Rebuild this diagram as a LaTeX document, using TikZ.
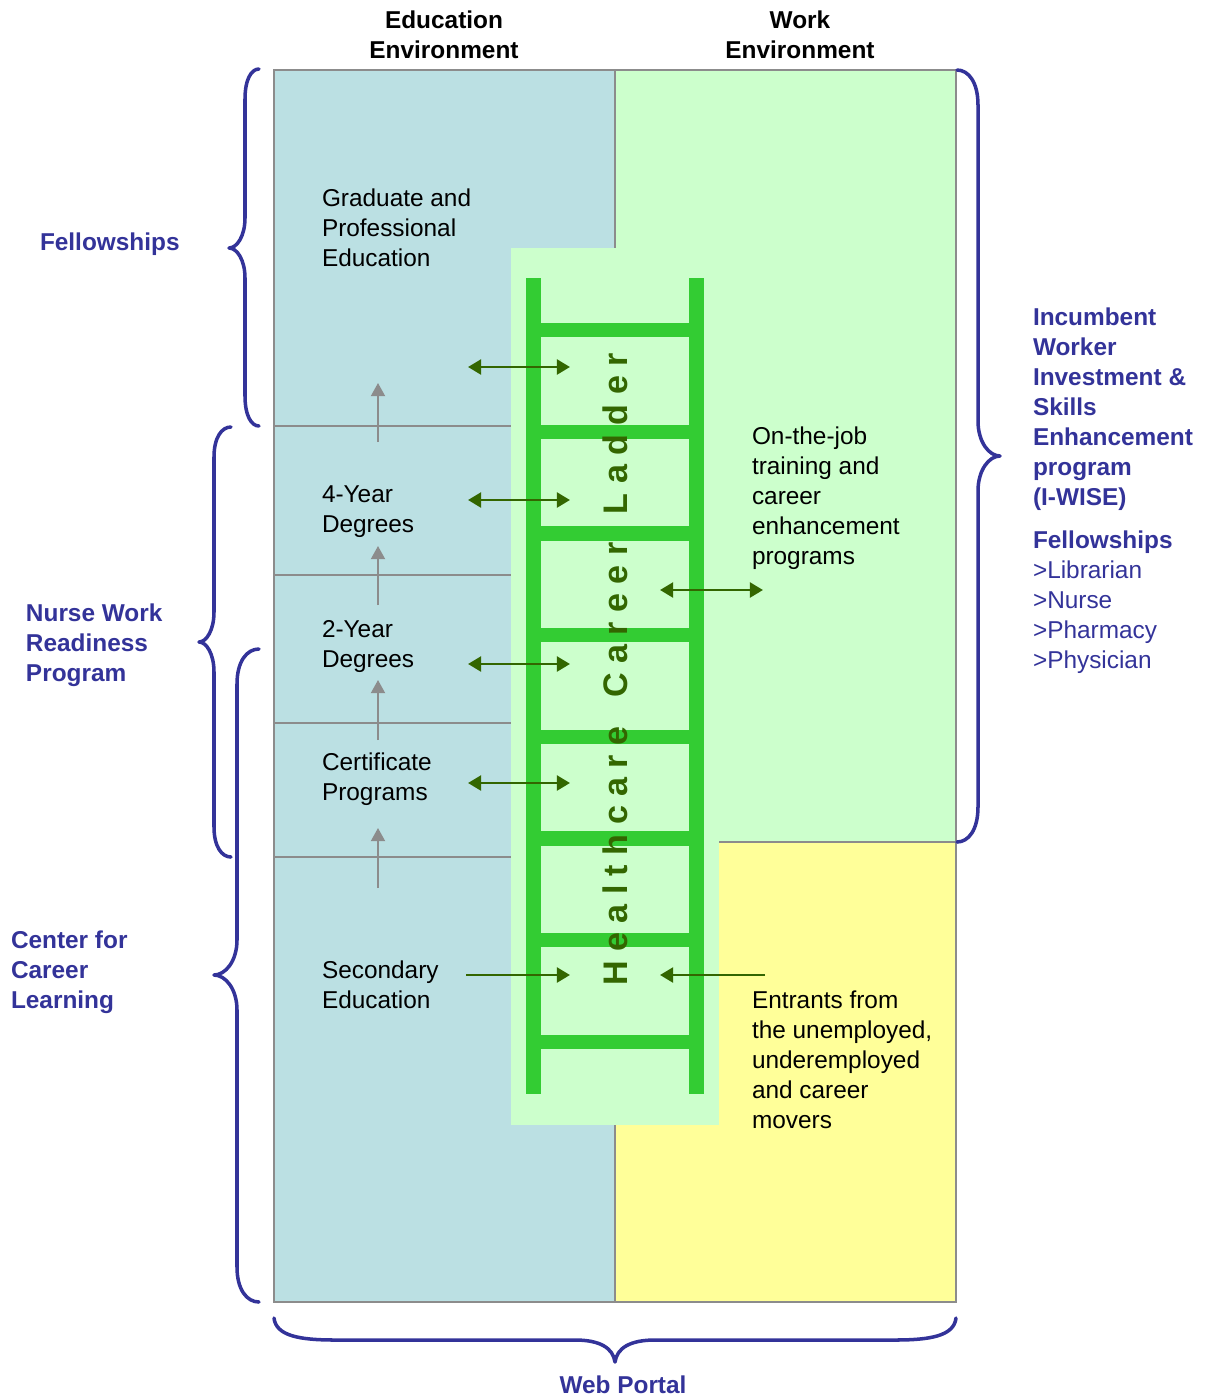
\documentclass[tikz,border=0pt]{standalone}
\usepackage{fontspec}
\setmainfont{Liberation Sans}
\usetikzlibrary{arrows.meta}
\definecolor{edublue}{RGB}{187,224,227}
\definecolor{workgreen}{RGB}{204,255,204}
\definecolor{entyellow}{RGB}{255,255,153}
\definecolor{railgreen}{RGB}{51,204,51}
\definecolor{dgreen}{RGB}{51,102,0}
\definecolor{bblue}{RGB}{51,51,153}
\definecolor{lgrey}{RGB}{140,140,140}
\newcommand{\mybracel}[7]{% xt, y1, y2, xv, xp, ym, r
  \draw[brc] (#1,#2) .. controls ({#4+0.45*(#1-#4)},#2) and (#4,{#2+0.35*#7}) .. (#4,#2+#7) -- (#4,#6-#7)
    .. controls (#4,{#6-0.4*#7}) and ({#5+0.5*(#4-#5)},#6) .. (#5,#6)
    .. controls ({#5+0.5*(#4-#5)},#6) and (#4,{#6+0.4*#7}) .. (#4,#6+#7)
    -- (#4,#3-#7) .. controls (#4,{#3-0.35*#7}) and ({#4+0.45*(#1-#4)},#3) .. (#1,#3);}
\begin{document}
\begin{tikzpicture}[x=0.02cm,y=-0.02cm,
  txt/.style={inner sep=0pt, outer sep=0pt, align=left, anchor=north west,
    font=\fontsize{13.88pt}{17.07pt}\selectfont},
  btxt/.style={txt, text=bblue, font=\fontsize{13.88pt}{17.07pt}\selectfont\bfseries},
  htxt/.style={txt, align=center, anchor=north, font=\fontsize{13.88pt}{17.07pt}\selectfont\bfseries},
  region/.style={draw=lgrey, line width=1.1pt},
  divline/.style={draw=lgrey, line width=1.1pt},
  rail/.style={draw=railgreen, line width=8.5pt},
  brc/.style={draw=bblue, line width=2pt, line join=round, line cap=round},
  garr/.style={draw=dgreen, line width=1.6pt, -{Triangle[length=7.5pt,width=8.5pt]}},
  darr/.style={draw=dgreen, line width=1.6pt, {Triangle[length=7.5pt,width=8.5pt]}-{Triangle[length=7.5pt,width=8.5pt]}},
  uparr/.style={draw=lgrey, line width=1.1pt, -{Triangle[length=7.5pt,width=8pt]}}]
\useasboundingbox (0,0) rectangle (1207,1397);

% regions
\fill[edublue] (274,70) rectangle (615,1302);
\fill[workgreen] (615,70) rectangle (956,842);
\fill[entyellow] (615,842) rectangle (956,1302);
\draw[region] (274,70) rectangle (956,1302);
\draw[divline] (615,70) -- (615,1302);
\draw[divline] (615,842) -- (956,842);
\foreach \yy in {426,575,723,857} \draw[divline] (274,\yy) -- (511,\yy);

% grey level arrows
\coordinate (u1a) at (378,442); \coordinate (u1b) at (378,383);
\coordinate (u2a) at (378,605); \coordinate (u2b) at (378,546);
\coordinate (u3a) at (378,740); \coordinate (u3b) at (378,680);
\coordinate (u4a) at (378,888); \coordinate (u4b) at (378,828);
\draw[uparr] (u1a) -- (u1b);
\draw[uparr] (u2a) -- (u2b);
\draw[uparr] (u3a) -- (u3b);
\draw[uparr] (u4a) -- (u4b);

% ladder panel
\fill[workgreen] (511,248) rectangle (719,1125);
\draw[rail] (533.5,278) -- (533.5,1094);
\draw[rail] (696.5,278) -- (696.5,1094);
\foreach \yy in {330,432,533.5,635,737,838.5,940,1042}
  \draw[rail] (541,\yy) -- (689,\yy);
\node[rotate=90, inner sep=0pt, text=dgreen,
  font=\fontsize{19.4pt}{24pt}\selectfont\bfseries] (ladder) at (615.5,669.5)
  {H~e~a~l~t~h~c~a~r~e~~~C~a~r~e~e~r~~~L~a~d~d~e~r};

% green arrows
\coordinate (g1l) at (468,367); \coordinate (g1r) at (570,367);
\coordinate (g2l) at (468,500); \coordinate (g2r) at (570,500);
\coordinate (g3l) at (468,664); \coordinate (g3r) at (570,664);
\coordinate (g4l) at (468,783); \coordinate (g4r) at (570,783);
\coordinate (g5l) at (466,975); \coordinate (g5r) at (570,975);
\coordinate (g6l) at (660,590); \coordinate (g6r) at (763,590);
\coordinate (g7l) at (660,975); \coordinate (g7r) at (765,975);
\draw[darr] (g1l) -- (g1r);
\draw[darr] (g2l) -- (g2r);
\draw[darr] (g3l) -- (g3r);
\draw[darr] (g4l) -- (g4r);
\draw[garr] (g5l) -- (g5r);
\draw[darr] (g6l) -- (g6r);
\draw[garr] (g7r) -- (g7l);

% texts in regions
\node[txt] (grad) at (322,189) {Graduate and\\Professional\\Education};
\node[txt] (four) at (322,486) {4-Year\\Degrees};
\node[txt] (two) at (322,620) {2-Year\\Degrees};
\node[txt] (cert) at (322,753) {Certificate\\Programs};
\node[txt] (sec) at (322,961) {Secondary\\Education};
\node[txt] (ojt) at (752,427) {On-the-job\\training and\\career\\enhancement\\programs};
\node[txt] (ent) at (752,991) {Entrants from\\the unemployed,\\underemployed\\and career\\movers};

% headers
\node[htxt] (eduh) at (444,11) {Education\\Environment};
\node[htxt] (workh) at (800,11) {Work\\Environment};

% blue labels
\node[btxt] (fel) at (40,233) {Fellowships};
\node[btxt] (nurse) at (26,604) {Nurse Work\\Readiness\\Program};
\node[btxt] (ccl) at (11,931) {Center for\\Career\\Learning};
\node[btxt] (iwise) at (1033,308) {Incumbent\\Worker\\Investment \&\\Skills\\Enhancement\\program\\(I-WISE)};
\node[txt, text=bblue] (fel2) at (1033,531) {\textbf{Fellowships}\\>Librarian\\>Nurse\\>Pharmacy\\>Physician};
\node[btxt, anchor=north] (web) at (623,1376) {Web Portal};

% braces
\mybracel{259}{69}{426}{245}{229}{248}{30}
\mybracel{231}{427}{857}{214}{199}{642}{30}
\mybracel{259}{649}{1302}{237}{214}{975}{35}
\mybracel{957}{70}{842}{978}{1000}{456}{35}
\draw[brc] (274,1318) .. controls (276,1336) and (300,1340) .. (335,1340) -- (575,1340)
  .. controls (600,1340) and (613,1348) .. (615,1362) .. controls (617,1348) and (630,1340) .. (655,1340)
  -- (895,1340) .. controls (930,1340) and (954,1336) .. (956,1318);
\end{tikzpicture}
\end{document}
